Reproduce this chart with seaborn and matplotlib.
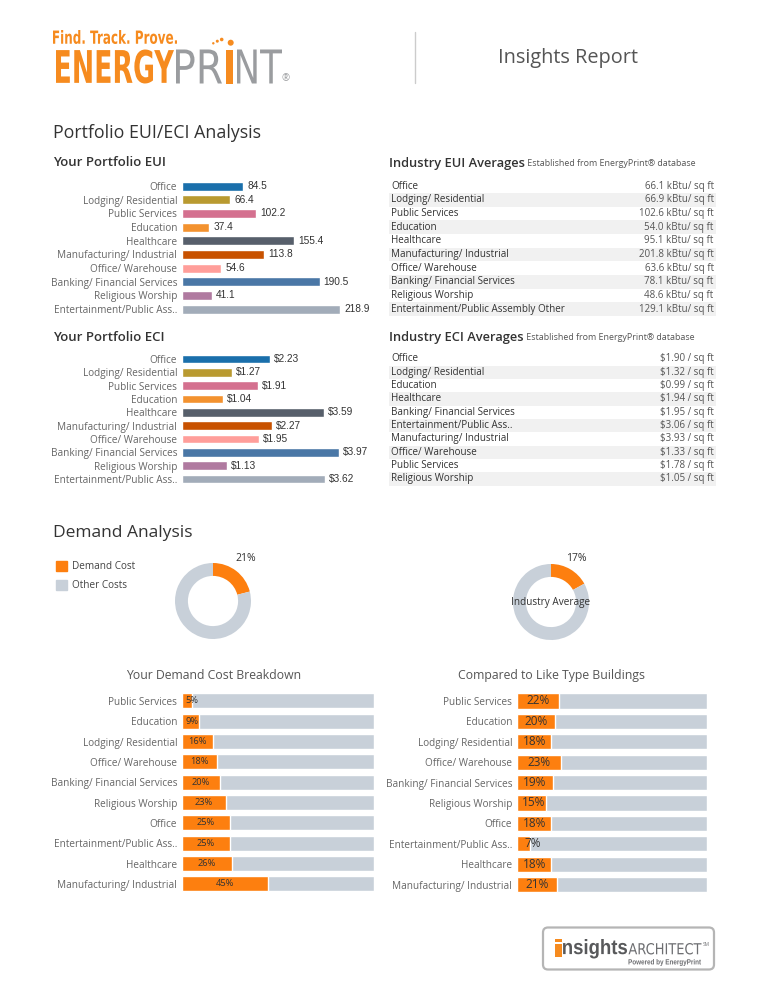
import matplotlib.pyplot as plt
from matplotlib.patches import Patch, PathPatch, Circle, FancyBboxPatch
from matplotlib.textpath import TextPath
from matplotlib.font_manager import FontProperties
from matplotlib.transforms import Affine2D
import seaborn as sns
import pandas as pd

W, H = 768, 996

# ---- data ----
portfolio_categories = ['Office', 'Lodging/ Residential', 'Public Services', 'Education',
                        'Healthcare', 'Manufacturing/ Industrial', 'Office/ Warehouse',
                        'Banking/ Financial Services', 'Religious Worship',
                        'Entertainment/Public Ass..']
portfolio_eui = [84.5, 66.4, 102.2, 37.4, 155.4, 113.8, 54.6, 190.5, 41.1, 218.9]
portfolio_eci = [2.23, 1.27, 1.91, 1.04, 3.59, 2.27, 1.95, 3.97, 1.13, 3.62]
category_colors = ['#1a6fab', '#b99a30', '#d4708f', '#f3922f', '#575f6b',
                   '#c85200', '#ff9e9a', '#4a77a6', '#b07aa0', '#a2acb9']

industry_eui_categories = ['Office', 'Lodging/ Residential', 'Public Services', 'Education',
                           'Healthcare', 'Manufacturing/ Industrial', 'Office/ Warehouse',
                           'Banking/ Financial Services', 'Religious Worship',
                           'Entertainment/Public Assembly Other']
industry_eui = [66.1, 66.9, 102.6, 54.0, 95.1, 201.8, 63.6, 78.1, 48.6, 129.1]

industry_eci_categories = ['Office', 'Lodging/ Residential', 'Education', 'Healthcare',
                           'Banking/ Financial Services', 'Entertainment/Public Ass..',
                           'Manufacturing/ Industrial', 'Office/ Warehouse',
                           'Public Services', 'Religious Worship']
industry_eci = [1.90, 1.32, 0.99, 1.94, 1.95, 3.06, 3.93, 1.33, 1.78, 1.05]

demand_share = 0.21
industry_demand_share = 0.17

demand_categories = ['Public Services', 'Education', 'Lodging/ Residential',
                     'Office/ Warehouse', 'Banking/ Financial Services', 'Religious Worship',
                     'Office', 'Entertainment/Public Ass..', 'Healthcare',
                     'Manufacturing/ Industrial']
your_demand = [0.05, 0.09, 0.16, 0.18, 0.20, 0.23, 0.25, 0.25, 0.26, 0.45]
like_type_demand = [0.22, 0.20, 0.18, 0.23, 0.19, 0.15, 0.18, 0.07, 0.18, 0.21]

ORANGE = '#fd7f0f'
GRAY = '#c8d0d9'
LOGO_ORANGE = '#f68b1f'
LOGO_GRAY = '#9a9c9f'
LABEL_SIZE = 7.2


def px_axes(fig, left, top, width, height):
    """Add axes using pixel coordinates measured from the top-left."""
    return fig.add_axes([left / W, 1 - (top + height) / H, width / W, height / H])


def logo_word(ax, text, left, top, right, bottom, color, weight='bold',
              family='Liberation Sans Narrow'):
    """Draw text as a path stretched into an ink box (pixel coords)."""
    tp = TextPath((0, 0), text, size=1, prop=FontProperties(family=family, weight=weight))
    ext = tp.get_extents()
    sx = (right - left) / ext.width
    sy = (bottom - top) / ext.height
    tr = Affine2D().translate(-ext.x0, -ext.y0).scale(sx, -sy).translate(left, bottom)
    ax.add_patch(PathPatch(tr.transform_path(tp), facecolor=color, lw=0))


def portfolio_bars(ax, values, xmax, fmt):
    df = pd.DataFrame({'category': portfolio_categories, 'value': values})
    sns.barplot(data=df, x='value', y='category', hue='category', palette=category_colors,
                saturation=1, legend=False, width=0.66, orient='h', ax=ax)
    for c in ax.containers:
        ax.bar_label(c, labels=[fmt(v) for v in c.datavalues], padding=3,
                     fontsize=7.3, color='#333333', family='Liberation Sans')
    ax.set_xlim(0, xmax)
    ax.set_ylim(9.5, -0.5)
    ax.set_xlabel('')
    ax.set_ylabel('')
    ax.set_xticks([])
    ax.tick_params(axis='y', length=0, pad=3.5, labelsize=LABEL_SIZE, labelcolor='#666666')
    sns.despine(ax=ax, left=True, bottom=True)


def industry_table(ax, categories, values, fmt):
    n = len(categories)
    ax.set_xlim(0, 1)
    ax.set_ylim(n - 0.5, -0.5)
    for i, (cat, val) in enumerate(zip(categories, values)):
        if i % 2 == 1:
            ax.axhspan(i - 0.5, i + 0.5, color='#f1f1f1', lw=0)
        ax.text(0.007, i, cat, ha='left', va='center', fontsize=7.1, color='#333333')
        ax.text(0.993, i, fmt(val), ha='right', va='center', fontsize=7.0, color='#555555')
    ax.axis('off')


def donut(ax, share, label_dist):
    wedges, texts = ax.pie([share, 1 - share], colors=[ORANGE, GRAY], startangle=90,
                           counterclock=False, radius=1,
                           wedgeprops=dict(width=0.34, linewidth=0),
                           labels=[f'{share:.0%}', ''], labeldistance=label_dist,
                           textprops=dict(fontsize=7.5, color='#333333'))
    texts[0].set_ha('center')
    texts[0].set_va('center')
    ax.set_xlim(-1, 1)
    ax.set_ylim(-1, 1)
    ax.set_aspect('equal')


def demand_bars(ax, values, label_size, min_center):
    df = pd.DataFrame({'category': demand_categories, 'demand': values,
                       'total': [1.0] * len(values)})
    sns.barplot(data=df, x='total', y='category', color=GRAY, saturation=1,
                width=0.74, orient='h', ax=ax)
    sns.barplot(data=df, x='demand', y='category', color=ORANGE, saturation=1,
                width=0.74, orient='h', ax=ax)
    for i, v in enumerate(values):
        ax.text(max(v / 2, min_center), i, f'{v:.0%}', ha='center', va='center',
                fontsize=label_size, color='#333333')
    ax.set_xlim(0, 1)
    ax.set_ylim(9.5, -0.5)
    ax.set_xlabel('')
    ax.set_ylabel('')
    ax.set_xticks([])
    ax.tick_params(axis='y', length=0, pad=3.5, labelsize=LABEL_SIZE, labelcolor='#666666')
    sns.despine(ax=ax, left=True, bottom=True)


sns.set_theme(style='white')
plt.rcParams['font.family'] = ['Open Sans', 'DejaVu Sans']

fig = plt.figure(figsize=(W / 100, H / 100), dpi=100)

# overlay in pixel coordinates for headings and logos
ov = fig.add_axes([0, 0, 1, 1])
ov.set_xlim(0, W)
ov.set_ylim(H, 0)
ov.axis('off')

# header logo
logo_word(ov, 'Find. Track. Prove.', 53, 30, 177, 44, LOGO_ORANGE)
logo_word(ov, 'ENERGY', 56, 49.5, 174, 83.5, LOGO_ORANGE)
logo_word(ov, 'PR', 176, 49.5, 222, 83.5, LOGO_GRAY, weight='normal')
logo_word(ov, 'I', 226, 49.5, 233, 83.5, LOGO_ORANGE)
logo_word(ov, 'NT', 237, 49.5, 282, 83.5, LOGO_GRAY, weight='normal')
for cx, cy, r in [(213.3, 43.3, 1.2), (217.3, 41.2, 1.5), (221.7, 39.5, 1.8), (230.7, 42.7, 3.0)]:
    ov.add_patch(Circle((cx, cy), r, color=LOGO_ORANGE, lw=0))
ov.text(286, 79, '®', fontsize=7, color=LOGO_GRAY, ha='center', va='center')
ov.plot([415, 415], [32, 83], color='#cccccc', lw=1)
ov.text(498, 58, 'Insights Report', fontsize=14.3, color='#555555', va='center')

# section headings
ov.text(53, 133, 'Portfolio EUI/ECI Analysis', fontsize=12.8, color='#333333', va='center')
ov.text(53, 162, 'Your Portfolio EUI', fontsize=9.5, weight='semibold', color='#333333', va='center')
ov.text(53, 337, 'Your Portfolio ECI', fontsize=9.5, weight='semibold', color='#333333', va='center')
for y, title in [(163, 'Industry EUI Averages'), (337, 'Industry ECI Averages')]:
    t = ov.text(389, y, title, fontsize=9.3, weight='semibold', color='#333333', va='center')
    ov.annotate(' Established from EnergyPrint® database', xy=(1, 0.12), xycoords=t,
                va='bottom', fontsize=6.4, color='#555555')
ov.text(53, 533, 'Demand Analysis', fontsize=12.5, color='#333333', va='center')
ov.text(214, 675, 'Your Demand Cost Breakdown', fontsize=8.8, color='#555555',
        ha='center', va='center')
ov.text(551, 675, 'Compared to Like Type Buildings', fontsize=8.8, color='#555555',
        ha='center', va='center')

# portfolio bar charts
ax_eui = px_axes(fig, 182, 179.2, 190, 136.7)
portfolio_bars(ax_eui, portfolio_eui, 218.9 * 190 / 158, lambda v: f'{v:.1f}')
ax_eci = px_axes(fig, 182, 352.3, 190, 133.3)
portfolio_bars(ax_eci, portfolio_eci, 3.97 * 190 / 157, lambda v: f'${v:.2f}')

# industry tables
ax_teui = px_axes(fig, 389, 179.2, 327, 136.7)
industry_table(ax_teui, industry_eui_categories, industry_eui, lambda v: f'{v:.1f} kBtu/ sq ft')
ax_teci = px_axes(fig, 389, 352.3, 327, 133.3)
industry_table(ax_teci, industry_eci_categories, industry_eci, lambda v: f'${v:.2f} / sq ft')

# donuts
ax_d1 = px_axes(fig, 175, 563, 76, 76)
donut(ax_d1, demand_share, 1.4)
ax_d2 = px_axes(fig, 513, 564, 76, 76)
donut(ax_d2, industry_demand_share, 1.32)
ax_d2.text(0, 0, 'Industry Average', ha='center', va='center', fontsize=7.2, color='#333333')

fig.legend(handles=[Patch(color=ORANGE, label='Demand Cost'),
                    Patch(color=GRAY, label='Other Costs')],
           loc='upper left', bbox_to_anchor=(56 / W, 1 - 561 / H), frameon=False,
           borderpad=0, borderaxespad=0, handlelength=1.05, handleheight=1.15,
           handletextpad=0.6, labelspacing=0.75, fontsize=7.2, labelcolor='#444444')

# demand breakdown bars
ax_db1 = px_axes(fig, 182, 690.8, 192, 203.3)
demand_bars(ax_db1, your_demand, 6.7, 0.05)
ax_db2 = px_axes(fig, 517, 690.8, 190, 204)
demand_bars(ax_db2, like_type_demand, 8.5, 0.085)

# footer logo
ov.add_patch(FancyBboxPatch((543, 927.5), 171, 42, boxstyle='round,pad=0,rounding_size=5',
                            fill=False, edgecolor='#b5b5b5', lw=1.6))
logo_word(ov, 'i', 555, 939, 562, 957, LOGO_ORANGE, family='Liberation Sans')
logo_word(ov, 'nsights', 563, 939, 627, 958.5, '#58595b', family='Liberation Sans')
logo_word(ov, 'ARCHITECT', 628.5, 943, 701.5, 954.5, '#6d6e71', weight='normal')
ov.text(703, 944.5, 'SM', fontsize=3.5, color='#6d6e71', va='center')
logo_word(ov, 'Powered by EnergyPrint', 628.5, 959, 701, 966, '#6d6e71', family='Liberation Sans')

fig.savefig('out.png', dpi=100)
plt.close(fig)
